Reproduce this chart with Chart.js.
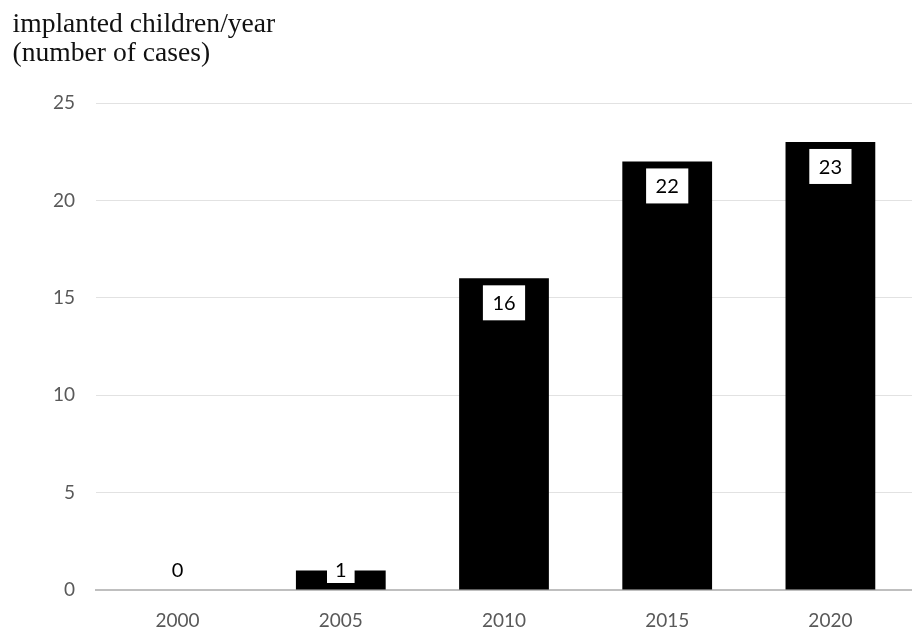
<!DOCTYPE html>
<html><head><meta charset="utf-8">
<style>html,body{margin:0;padding:0;background:#fff;}#wrap{position:relative;width:912px;height:632px;}</style>
<script src="https://cdn.jsdelivr.net/npm/chart.js@4"></script>
</head><body><div id="wrap"><canvas id="c" width="912" height="632"></canvas></div>
<script>
const titleLines = ['implanted children/year', '(number of cases)'];
const years = ['2000', '2005', '2010', '2015', '2020'];
const cases = [0, 1, 16, 22, 23];
const yMin = 0, yMax = 25, yStep = 5;

const titlePlugin = {
  id: 'sideTitle',
  afterDraw(chart) {
    const ctx = chart.ctx;
    ctx.save();
    ctx.font = '27.6px "Liberation Serif"';
    ctx.fillStyle = '#111';
    ctx.textAlign = 'left';
    ctx.textBaseline = 'alphabetic';
    ctx.fillText(titleLines[0], 12.5, 32);
    ctx.fillText(titleLines[1], 12.5, 61);
    ctx.restore();
  }
};

const labelPlugin = {
  id: 'boxLabels',
  afterDatasetsDraw(chart) {
    const ctx = chart.ctx;
    const meta = chart.getDatasetMeta(0);
    const zeroY = chart.scales.y.getPixelForValue(0);
    ctx.save();
    ctx.font = '20px Lato';
    ctx.textAlign = 'center';
    ctx.textBaseline = 'middle';
    meta.data.forEach((bar, i) => {
      const txt = String(cases[i]);
      const w = ctx.measureText(txt).width;
      const cy = Math.min(bar.y + 24.5, zeroY - 20);
      const bw = txt.length > 1 ? w + 19 : w + 16;
      const bh = txt.length > 1 ? 35 : 26;
      ctx.fillStyle = '#fff';
      ctx.fillRect(bar.x - bw / 2, cy - bh / 2, bw, bh);
      ctx.fillStyle = '#000';
      ctx.fillText(txt, bar.x, cy + 1);
    });
    ctx.restore();
  }
};

new Chart(document.getElementById('c'), {
  type: 'bar',
  data: {
    labels: years,
    datasets: [{
      data: cases,
      backgroundColor: '#000',
      borderWidth: 0,
      barPercentage: 0.55,
      categoryPercentage: 1
    }]
  },
  options: {
    responsive: false,
    devicePixelRatio: 1,
    animation: false,
    layout: { padding: { top: 103, left: 0, right: 0, bottom: 0 } },
    plugins: { legend: { display: false }, tooltip: { enabled: false }, title: { display: false } },
    scales: {
      x: {
        grid: { display: false, drawTicks: false },
        border: { display: true, color: '#bfbfbf', width: 2 },
        ticks: { color: '#595959', font: { family: 'Lato', size: 19 }, padding: 19, maxRotation: 0 },
        afterFit(s) { s.height = 42; }
      },
      y: {
        min: yMin, max: yMax,
        grid: {
          drawTicks: false,
          color: (c) => c.tick && c.tick.value === 0 ? 'rgba(0,0,0,0)' : '#e2e2e2',
          lineWidth: 1
        },
        border: { display: false },
        ticks: { stepSize: yStep, color: '#595959', font: { family: 'Lato', size: 19 }, padding: 21 },
        afterFit(s) { s.width = 96; }
      }
    }
  },
  plugins: [titlePlugin, labelPlugin]
});
</script>
</body></html>
